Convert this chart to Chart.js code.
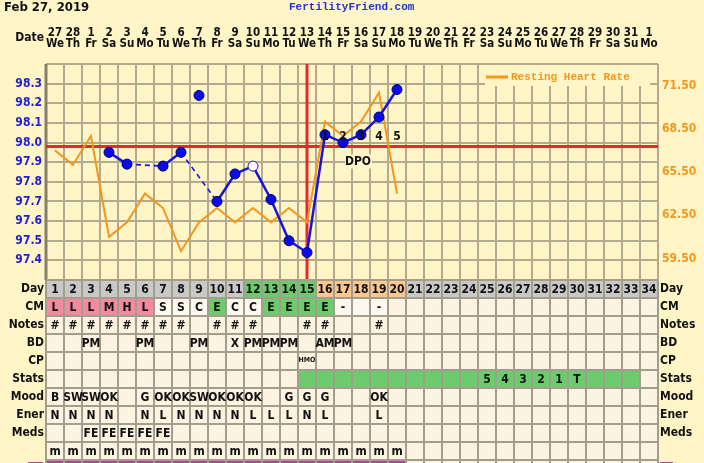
<!DOCTYPE html>
<html>
<head>
<meta charset="utf-8">
<script src="https://cdn.jsdelivr.net/npm/chart.js@4.4.0/dist/chart.umd.min.js"></script>
<style>
  html, body { margin: 0; padding: 0; background: #FFF5C6; }
  #wrap { width: 704px; height: 463px; }
</style>
</head>
<body>
<div id="wrap"><canvas id="ctx-chart" width="704" height="463"></canvas></div>
<script>
// ---- chart data ----
const dayNums = ['1','2','3','4','5','6','7','8','9','10','11','12','13','14','15','16','17',
  '18','19','20','21','22','23','24','25','26','27','28','29','30','31','32','33','34'];
const dates = ['27','28','1','2','3','4','5','6','7','8','9','10','11','12','13','14','15',
  '16','17','18','19','20','21','22','23','24','25','26','27','28','29','30','31','1'];
const dows = ['We','Th','Fr','Sa','Su','Mo','Tu','We','Th','Fr','Sa','Su','Mo','Tu','We','Th','Fr',
  'Sa','Su','Mo','Tu','We','Th','Fr','Sa','Su','Mo','Tu','We','Th','Fr','Sa','Su','Mo'];

const temps = [null, null, null, 97.95, 97.89, null, 97.88, 97.95, null, 97.70,
  97.84, 97.88, 97.71, 97.50, 97.44, 98.04, 98.00, 98.04, 98.13, 98.27];
const discardedTemps = [null, null, null, null, null, null, null, null, 98.24];
const openTempDays = [12];
const heartRates = [67, 66, 68, 61, 62, 64, 63, 60, 62, 63, 62, 63, 62, 63, 62, 69, 68, 69, 71, 64];

const coverline = 97.98;
const ovulationDay = 15;
const dpoDays = [16, 17, 18, 19, 20];
const dpoLabels = ['1', '2', '3', '4', '5'];

const tempTicks = [97.3, 97.4, 97.5, 97.6, 97.7, 97.8, 97.9, 98.0, 98.1, 98.2, 98.3, 98.4];
const tempLabels = [97.4, 97.5, 97.6, 97.7, 97.8, 97.9, 98.0, 98.1, 98.2, 98.3];
const hrTicks = [59.5, 62.5, 65.5, 68.5, 71.5];

// ---- table rows ----
const fertileDays = [12, 13, 14, 15];
const postOvDays = [16, 17, 18, 19, 20];
const cm = ['L','L','L','M','H','L','S','S','C','E','C','C','E','E','E','E','-',' ','-'];
const notes = ['#','#','#','#','#','#','#','#','','#','#','#','','','#','#','','','#'];
const bd = ['','','PM','','','PM','','','PM','','X','PM','PM','PM','','AM','PM'];
const cp = ['','','','','','','','','','','','','','','HMO'];
const statsDays = [15,16,17,18,19,20,21,22,23,24,25,26,27,28,29,30,31,32,33];
const stats = ['','','','','','','','','','','','','','','','','','','','','','','','','5','4','3','2','1','T'];
const mood = ['B','SW','SW','OK','','G','OK','OK','SW','OK','OK','OK','','G','G','G','','','OK'];
const energy = ['N','N','N','N','','N','L','N','N','N','N','L','L','L','N','L','','','L'];
const meds = ['','','FE','FE','FE','FE','FE'];
const misc = ['m','m','m','m','m','m','m','m','m','m','m','m','m','m','m','m','m','m','m','m'];
const periodDays = [1,2,3,4,5,6,7,8,9,10,11,12,13,14,15,16,17,18,19,20];

const FONT = "'DejaVu Sans Condensed', 'DejaVu Sans', sans-serif";
const MONO = "'Liberation Mono', 'DejaVu Sans Mono', monospace";
const BG = '#FFF5C6';
const GRID = '#B3AB90';
const BLUE = '#0B0BEA';
const ORANGE = '#F5961E';
const RED = '#E8282A';

const cellBg = '#FCF3E0';
const tableLine = '#A29D8C';

const tableRows = [
  { label: 'Day', values: dayNums, right: 'Day',
    fill: d => fertileDays.includes(d) ? '#6CCB6C' : postOvDays.includes(d) ? '#FAC88E' : '#C8C8C8' },
  { label: 'CM', values: cm, right: 'CM',
    fill: d => {
      const v = cm[d - 1];
      if (v === undefined || v === '') return cellBg;
      if (v.trim() && 'LMH'.includes(v)) return '#F28AA0';
      if (v === 'E') return '#6CCB6C';
      return '#FDF9F0';
    } },
  { label: 'Notes', values: notes, right: 'Notes' },
  { label: 'BD', values: bd, right: 'BD' },
  { label: 'CP', values: cp, right: 'CP', small: true },
  { label: 'Stats', values: stats, right: 'Stats',
    fill: d => statsDays.includes(d) ? '#6CCB6C' : cellBg },
  { label: 'Mood', values: mood, right: 'Mood' },
  { label: 'Ener', values: energy, right: 'Ener' },
  { label: 'Meds', values: meds, right: 'Meds' },
  { label: '', values: misc, right: '' }
];

const ROW_H = 18;

const gapSeg = c => c.p0.skip || c.p1.skip;

const backgroundPlugin = {
  id: 'background',
  beforeDraw(chart) {
    const c = chart.ctx;
    c.save();
    c.fillStyle = BG;
    c.fillRect(0, 0, chart.width, chart.height);
    c.restore();
  }
};

const markersPlugin = {
  id: 'markers',
  beforeDatasetsDraw(chart) {
    const c = chart.ctx, a = chart.chartArea;
    const x = chart.scales.x, y = chart.scales.y;
    c.save();
    // left border
    c.strokeStyle = '#857F6C';
    c.lineWidth = 3;
    c.beginPath();
    c.moveTo(a.left, a.top);
    c.lineTo(a.left, a.bottom);
    c.stroke();
    // coverline + ovulation
    c.strokeStyle = RED;
    c.lineWidth = 3;
    const cy = y.getPixelForValue(coverline);
    c.beginPath();
    c.moveTo(a.left, cy);
    c.lineTo(a.right, cy);
    c.stroke();
    const ox = x.getPixelForValue(ovulationDay - 1);
    c.beginPath();
    c.moveTo(ox, a.top);
    c.lineTo(ox, a.bottom);
    c.stroke();
    c.restore();
  },
  afterDatasetsDraw(chart) {
    const c = chart.ctx;
    const x = chart.scales.x, y = chart.scales.y;
    const cy = y.getPixelForValue(coverline);
    c.save();
    c.font = 'bold 12px ' + FONT;
    c.fillStyle = '#111';
    c.textAlign = 'center';
    c.textBaseline = 'middle';
    dpoDays.forEach((d, i) => {
      c.fillText(dpoLabels[i], x.getPixelForValue(d - 1), cy - 10);
    });
    // DPO label box
    const dx = x.getPixelForValue(dpoDays[2] - 1) - 3;
    c.fillStyle = BG;
    c.fillRect(dx - 13, cy + 8, 27, 14);
    c.fillStyle = '#111';
    c.fillText('DPO', dx, cy + 15);

    // legend
    const hr = chart.data.datasets[2];
    c.fillStyle = BG;
    c.fillRect(485, 65, 165, 21);
    c.strokeStyle = hr.borderColor;
    c.lineWidth = 3;
    c.beginPath();
    c.moveTo(486, 77);
    c.lineTo(508, 77);
    c.stroke();
    c.font = 'bold 11px ' + MONO;
    c.fillStyle = hr.borderColor;
    c.textAlign = 'left';
    c.fillText(hr.label, 511, 77);
    c.restore();
  }
};

const tablePlugin = {
  id: 'table',
  afterDraw(chart) {
    const c = chart.ctx, a = chart.chartArea;
    const x = chart.scales.x;
    const colW = x.width / dayNums.length;
    const top0 = a.bottom;
    c.save();
    tableRows.forEach((row, r) => {
      const top = top0 + r * ROW_H;
      for (let i = 0; i < dayNums.length; i++) {
        const cx = x.getPixelForValue(i);
        c.fillStyle = row.fill ? row.fill(i + 1) : cellBg;
        c.fillRect(cx - colW / 2, top, colW, ROW_H);
      }
    });
    // partial bottom row
    const ptop = top0 + tableRows.length * ROW_H;
    for (let i = 0; i < dayNums.length; i++) {
      const cx = x.getPixelForValue(i);
      c.fillStyle = periodDays.includes(i + 1) ? '#A44C92' : cellBg;
      c.fillRect(cx - colW / 2, ptop, colW, ROW_H);
    }
    c.fillStyle = '#A44C92';
    c.fillRect(28, ptop + 2, 15, 10);
    c.fillRect(660, ptop + 2, 13, 10);

    // lines
    c.strokeStyle = tableLine;
    c.lineWidth = 2;
    for (let r = 0; r <= tableRows.length; r++) {
      const yy = top0 + r * ROW_H;
      c.beginPath();
      c.moveTo(a.left, yy);
      c.lineTo(a.right, yy);
      c.stroke();
    }
    for (let i = 0; i <= dayNums.length; i++) {
      const xx = a.left + i * colW;
      c.beginPath();
      c.moveTo(xx, top0);
      c.lineTo(xx, chart.height);
      c.stroke();
    }

    // text
    c.textBaseline = 'middle';
    tableRows.forEach((row, r) => {
      const cyy = top0 + r * ROW_H + ROW_H / 2;
      c.fillStyle = '#111';
      c.font = (row.small ? 'bold 7px ' : 'bold 12px ') + FONT;
      c.textAlign = 'center';
      row.values.forEach((v, i) => {
        if (v && v.trim()) c.fillText(v, x.getPixelForValue(i), cyy + (row.small ? -1 : 0.5));
      });
      c.font = 'bold 12px ' + FONT;
      c.textAlign = 'right';
      c.fillText(row.label, a.left - 2, cyy);
      c.textAlign = 'left';
      c.fillText(row.right, a.right + 2, cyy);
    });

    // header
    c.font = 'bold 13px ' + FONT;
    c.textAlign = 'left';
    c.fillStyle = '#111';
    c.fillText('Feb 27, 2019', 4, 8);
    c.font = 'bold 12px ' + FONT;
    c.textAlign = 'right';
    c.fillText('Date', a.left - 2, 38);
    c.font = 'bold 11px ' + MONO;
    c.fillStyle = '#2233CC';
    c.textAlign = 'left';
    c.fillText('FertilityFriend.com', 289, 7);
    c.restore();
  }
};

const ctx = document.getElementById('ctx-chart');
const chart = new Chart(ctx, {
  type: 'line',
  data: {
    labels: dayNums,
    datasets: [
      {
        label: 'Temperature',
        data: temps,
        yAxisID: 'y',
        borderColor: '#1414DC',
        borderWidth: 2.5,
        spanGaps: true,
        tension: 0,
        pointRadius: 5,
        pointBorderWidth: 1,
        pointBackgroundColor: c => openTempDays.includes(c.dataIndex + 1) ? '#ffffff' : BLUE,
        pointBorderColor: c => openTempDays.includes(c.dataIndex + 1) ? '#1414DC' : '#00006A',
        segment: {
          borderDash: c => (gapSeg(c) ? [5, 4] : undefined),
          borderWidth: c => (gapSeg(c) ? 1.6 : undefined)
        }
      },
      {
        label: 'Discarded',
        data: discardedTemps,
        yAxisID: 'y',
        showLine: false,
        pointRadius: 5,
        pointBorderWidth: 1,
        pointBackgroundColor: BLUE,
        pointBorderColor: '#00006A'
      },
      {
        label: 'Resting Heart Rate',
        data: heartRates,
        yAxisID: 'y2',
        borderColor: ORANGE,
        borderWidth: 2,
        tension: 0,
        pointRadius: 0
      }
    ]
  },
  options: {
    responsive: false,
    devicePixelRatio: 1,
    animation: false,
    layout: { padding: { left: 0, right: 0, top: 0, bottom: 183 } },
    plugins: { legend: { display: false }, tooltip: { enabled: false } },
    scales: {
      x: {
        type: 'category',
        position: 'top',
        offset: true,
        grid: { offset: true, color: GRID, lineWidth: 2, drawTicks: false },
        border: { display: false },
        ticks: {
          autoSkip: false,
          maxRotation: 0,
          padding: 14,
          color: '#111',
          font: { family: FONT, size: 11.5, weight: 'bold', lineHeight: 0.96 },
          callback: (v, i) => [dates[i], dows[i]]
        },
        afterFit: s => { s.height = 64; }
      },
      y: {
        position: 'left',
        min: 97.3,
        max: 98.4,
        afterBuildTicks: s => { s.ticks = tempTicks.map(v => ({ value: v })); },
        grid: { color: GRID, lineWidth: 2, drawTicks: false },
        border: { display: false },
        ticks: {
          padding: 4,
          color: '#2020D0',
          font: { family: FONT, size: 12, weight: 'bold' },
          callback: v => tempLabels.some(t => Math.abs(t - v) < 1e-6) ? v.toFixed(1) : ''
        },
        afterFit: s => { s.width = 46; }
      },
      y2: {
        position: 'right',
        min: 58,
        max: 73,
        afterBuildTicks: s => { s.ticks = hrTicks.map(v => ({ value: v })); },
        grid: { display: false, drawTicks: false },
        border: { display: false },
        ticks: {
          padding: 4,
          color: ORANGE,
          font: { family: FONT, size: 12, weight: 'bold' },
          callback: v => v.toFixed(2)
        },
        afterFit: s => { s.width = 46; }
      }
    }
  },
  plugins: [backgroundPlugin, markersPlugin, tablePlugin]
});
</script>
</body>
</html>
